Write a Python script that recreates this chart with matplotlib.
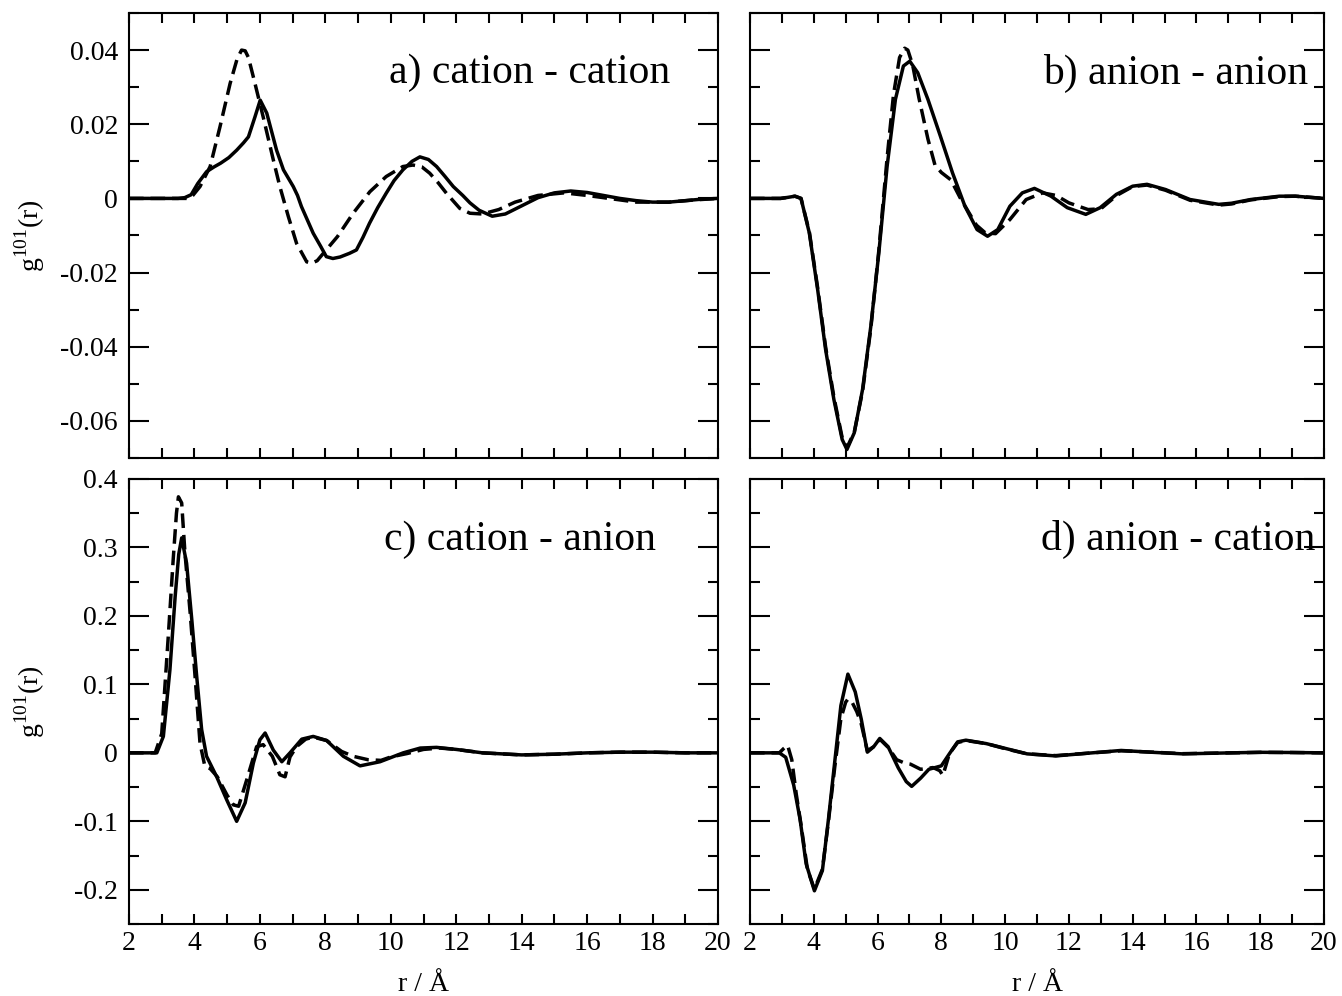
import matplotlib
matplotlib.use('Agg')
import matplotlib.pyplot as plt
from matplotlib.ticker import MultipleLocator, FuncFormatter

plt.rcParams['font.family'] = ['Liberation Serif', 'DejaVu Serif']
plt.rcParams['mathtext.fontset'] = 'custom'
plt.rcParams['mathtext.rm'] = 'Liberation Serif'
plt.rcParams['axes.unicode_minus'] = False

# ---------------- data ----------------
panel_labels = ["a) cation - cation", "b) anion - anion",
                "c) cation - anion", "d) anion - cation"]
x_ticks = [2, 4, 6, 8, 10, 12, 14, 16, 18, 20]

# a) cation - cation
r_a_solid = [2.0, 3.5, 3.7, 3.9, 4.1, 4.37, 4.6, 4.8, 5.05, 5.29, 5.5, 5.65, 5.85, 6.01,
             6.21, 6.51, 6.72, 6.9, 7.02, 7.15, 7.27, 7.45, 7.63, 7.85, 8.03, 8.23, 8.45,
             8.74, 8.95, 9.15, 9.35, 9.6, 9.86, 10.1, 10.37, 10.65, 10.89, 11.15, 11.4,
             11.65, 11.91, 12.2, 12.42, 12.7, 13.1, 13.5, 14.0, 14.5, 15.0, 15.5, 16.0,
             16.5, 17.0, 17.5, 18.0, 18.5, 19.0, 19.5, 20.0]
g_a_solid = [0, 0, 0.0002, 0.001, 0.004, 0.0072, 0.0085, 0.0095, 0.011, 0.013, 0.015,
             0.0166, 0.022, 0.0265, 0.023, 0.013, 0.0077, 0.005, 0.0032, 0.0008, -0.0022,
             -0.0058, -0.0094, -0.0128, -0.0157, -0.0162, -0.0158, -0.0148, -0.0139,
             -0.0105, -0.0067, -0.0025, 0.0014, 0.0048, 0.0077, 0.0100, 0.0112, 0.0105,
             0.0086, 0.0060, 0.0032, 0.0008, -0.0012, -0.0032, -0.0048, -0.0042, -0.0020,
             0.0002, 0.0015, 0.0020, 0.0016, 0.0008, 0.0, -0.0006, -0.0010, -0.0010,
             -0.0006, -0.0002, 0.0]
r_a_dash = [2.0, 3.8, 3.95, 4.17, 4.48, 4.78, 5.09, 5.3, 5.44, 5.55, 5.65, 5.85, 6.10,
            6.41, 6.61, 6.87, 7.12, 7.43, 7.58, 7.75, 7.94, 8.37, 8.85, 9.36, 9.86, 10.37,
            10.68, 10.95, 11.19, 11.45, 11.70, 12.11, 12.42, 12.8, 13.3, 13.8, 14.5, 15.3,
            16.0, 16.5, 17.5, 18.5, 19.3, 20.0]
g_a_dash = [0, 0, 0.0008, 0.0032, 0.0086, 0.0193, 0.031, 0.0375, 0.040, 0.0398, 0.038,
            0.031, 0.022, 0.0104, 0.0032, -0.0049, -0.0121, -0.0171, -0.0175, -0.0168,
            -0.0148, -0.0103, -0.0040, 0.0018, 0.0059, 0.0086, 0.0090, 0.0085, 0.0068,
            0.0042, 0.0014, -0.0027, -0.0040, -0.0042, -0.0030, -0.0010, 0.0008, 0.0015,
            0.0008, 0.0002, -0.0010, -0.0010, -0.0004, 0.0]

# b) anion - anion
r_b_solid = [2.0, 2.96, 3.2, 3.41, 3.6, 3.86, 4.12, 4.37, 4.63, 4.89, 5.04, 5.27, 5.53,
             5.79, 6.04, 6.30, 6.56, 6.81, 7.01, 7.26, 7.58, 7.97, 8.35, 8.74, 9.12, 9.45,
             9.77, 10.15, 10.54, 10.92, 11.44, 11.95, 12.53, 12.98, 13.49, 14.0, 14.45,
             15.03, 15.8, 16.7, 17.1, 17.7, 18.6, 19.1, 20.0]
g_b_solid = [0, 0, 0.0003, 0.0006, 0.0, -0.0093, -0.0245, -0.0407, -0.0542, -0.065,
             -0.0677, -0.0632, -0.0515, -0.0344, -0.0147, 0.0087, 0.0267, 0.0357, 0.037,
             0.0339, 0.0267, 0.0168, 0.0069, -0.0021, -0.0084, -0.0102, -0.0084, -0.0021,
             0.0015, 0.0027, 0.0006, -0.0025, -0.0043, -0.0025, 0.0011, 0.0033, 0.0038,
             0.0024, -0.0003, -0.0016, -0.0013, -0.0003, 0.0006, 0.0006, 0.0]
r_b_dash = [2.0, 2.96, 3.2, 3.41, 3.6, 3.86, 4.12, 4.37, 4.63, 4.89, 5.04, 5.27, 5.53,
            5.79, 6.04, 6.30, 6.50, 6.69, 6.85, 6.95, 7.1, 7.3, 7.58, 7.8, 8.0, 8.3, 8.6,
            8.87, 9.1, 9.38, 9.7, 10.15, 10.66, 11.18, 11.6, 12.0, 12.6, 13.0, 13.5, 14.0,
            14.45, 15.03, 15.8, 16.7, 17.1, 17.7, 18.6, 19.1, 20.0]
g_b_dash = [0, 0, 0.0003, 0.0006, 0.0, -0.0090, -0.0240, -0.0400, -0.0535, -0.0645,
            -0.0672, -0.063, -0.052, -0.035, -0.014, 0.011, 0.028, 0.038, 0.0405, 0.040,
            0.036, 0.027, 0.016, 0.009, 0.007, 0.005, 0.0, -0.0039, -0.0072, -0.0093,
            -0.0095, -0.0057, -0.0003, 0.0015, 0.0008, -0.0012, -0.0030, -0.0028, 0.0008,
            0.0032, 0.0036, 0.0022, -0.0005, -0.0018, -0.0015, -0.0004, 0.0005, 0.0006,
            0.0]

# c) cation - anion
r_c_solid = [2.0, 2.85, 3.05, 3.25, 3.41, 3.52, 3.61, 3.76, 3.92, 4.07, 4.22, 4.37, 4.68,
             4.99, 5.29, 5.55, 5.80, 6.00, 6.16, 6.41, 6.67, 6.92, 7.28, 7.63, 8.04, 8.55,
             9.06, 9.67, 10.38, 10.9, 11.4, 12.0, 12.8, 14.0, 15.0, 16.0, 17.0, 18.0, 19.0,
             20.0]
g_c_solid = [0, 0, 0.024, 0.121, 0.228, 0.29, 0.314, 0.277, 0.194, 0.111, 0.034, -0.005,
             -0.035, -0.069, -0.100, -0.073, -0.015, 0.019, 0.029, 0.004, -0.013, 0.0,
             0.020, 0.024, 0.018, -0.005, -0.019, -0.013, 0.0, 0.007, 0.008, 0.005, 0.0,
             -0.003, -0.002, 0.0, 0.001, 0.001, 0.0, 0.0]
r_c_dash = [2.0, 2.8, 3.0, 3.2, 3.35, 3.45, 3.51, 3.61, 3.71, 3.87, 4.02, 4.17, 4.32, 4.48,
            4.7, 5.0, 5.19, 5.35, 5.6, 5.9, 6.1, 6.38, 6.61, 6.77, 6.92, 7.12, 7.4, 7.63,
            8.04, 8.5, 8.85, 9.3, 9.7, 10.0, 10.5, 11.0, 11.5, 12.0, 12.8, 14.0, 15.0, 16.0,
            17.0, 18.0, 19.0, 20.0]
g_c_dash = [0, 0, 0.028, 0.17, 0.282, 0.35, 0.374, 0.365, 0.292, 0.204, 0.111, 0.014,
            -0.02, -0.023, -0.035, -0.062, -0.076, -0.078, -0.039, 0.009, 0.012, -0.005,
            -0.032, -0.035, -0.006, 0.009, 0.02, 0.023, 0.018, 0.002, -0.005, -0.010,
            -0.011, -0.006, -0.001, 0.005, 0.007, 0.005, 0.0, -0.003, -0.002, 0.0, 0.001,
            0.001, 0.0, 0.0]

# d) anion - cation
r_d_solid = [2.0, 2.92, 3.12, 3.37, 3.57, 3.76, 4.02, 4.27, 4.46, 4.66, 4.85, 5.07, 5.30,
             5.49, 5.68, 5.88, 6.07, 6.33, 6.65, 6.90, 7.07, 7.35, 7.61, 8.0, 8.25, 8.51,
             8.77, 9.41, 10.05, 10.69, 11.59, 12.6, 13.64, 14.54, 15.57, 17.1, 18.0, 19.0,
             20.0]
g_d_solid = [0, 0, -0.0065, -0.047, -0.097, -0.162, -0.2015, -0.172, -0.097, -0.012,
             0.069, 0.115, 0.089, 0.049, 0.001, 0.009, 0.021, 0.009, -0.022, -0.042,
             -0.049, -0.037, -0.024, -0.019, -0.0015, 0.016, 0.0185, 0.0135, 0.006,
             -0.0015, -0.0045, -0.0005, 0.0035, 0.001, -0.0015, 0.0, 0.0008, 0.0005, 0.0]
r_d_dash = [2.0, 2.92, 3.05, 3.18, 3.31, 3.45, 3.6, 3.8, 4.02, 4.27, 4.46, 4.66, 4.85, 5.0,
            5.07, 5.2, 5.35, 5.49, 5.68, 5.88, 6.07, 6.33, 6.6, 6.85, 7.03, 7.35, 7.74,
            7.95, 8.05, 8.25, 8.51, 8.77, 9.41, 10.05, 10.69, 11.59, 12.6, 13.64, 14.54,
            15.57, 17.1, 18.0, 19.0, 20.0]
g_d_dash = [0, 0, 0.006, 0.011, -0.01, -0.06, -0.105, -0.17, -0.199, -0.17, -0.1, -0.02,
            0.05, 0.074, 0.0785, 0.074, 0.06, 0.042, 0.003, 0.009, 0.02, 0.008, -0.01,
            -0.015, -0.0165, -0.024, -0.0215, -0.026, -0.033, -0.0015, 0.015, 0.018,
            0.0135, 0.0055, -0.0015, -0.004, -0.0005, 0.003, 0.0012, -0.0012, 0.0,
            0.0007, 0.0005, 0.0]

# ---------------- figure ----------------
fig = plt.figure(figsize=(13.42, 9.96), dpi=100)

W, H = 1342.0, 996.0
def rect(x0, x1, y0, y1):
    return [x0 / W, 1 - y1 / H, (x1 - x0) / W, (y1 - y0) / H]

ax_a = fig.add_axes(rect(129, 718, 13, 458))
ax_b = fig.add_axes(rect(750, 1324, 13, 458))
ax_c = fig.add_axes(rect(129, 718, 479, 924))
ax_d = fig.add_axes(rect(750, 1324, 479, 924))

def fmt(v, pos):
    s = f'{round(v, 4):g}'
    return '0' if s in ('-0', '0') else s

LW = 2.5
series = [
    (ax_a, r_a_solid, g_a_solid, r_a_dash, g_a_dash),
    (ax_b, r_b_solid, g_b_solid, r_b_dash, g_b_dash),
    (ax_c, r_c_solid, g_c_solid, r_c_dash, g_c_dash),
    (ax_d, r_d_solid, g_d_solid, r_d_dash, g_d_dash),
]
for ax, rs, gs, rd, gd in series:
    ax.plot(rs, gs, color='black', lw=LW, solid_joinstyle='round')
    ax.plot(rd, gd, color='black', lw=LW, dashes=(4.2, 2.0), dash_joinstyle='round')
    ax.set_xlim(2, 20)
    ax.xaxis.set_major_locator(MultipleLocator(2))
    ax.xaxis.set_minor_locator(MultipleLocator(1))
    ax.tick_params(which='both', direction='in', top=True, right=True, width=1.5,
                   labelsize=20, colors='black')
    ax.tick_params(axis='x', which='both', length=7.2, pad=5)
    ax.tick_params(axis='y', which='major', length=14.4, pad=8)
    ax.tick_params(axis='y', which='minor', length=7.2)
    ax.yaxis.set_major_formatter(FuncFormatter(fmt))
    ax.xaxis.set_major_formatter(FuncFormatter(fmt))
    for sp in ax.spines.values():
        sp.set_linewidth(1.5)

for ax in (ax_a, ax_b):
    ax.set_ylim(-0.07, 0.05)
    ax.yaxis.set_major_locator(MultipleLocator(0.02))
    ax.yaxis.set_minor_locator(MultipleLocator(0.01))
    ax.tick_params(axis='x', labelbottom=False)
for ax in (ax_c, ax_d):
    ax.set_ylim(-0.25, 0.4)
    ax.yaxis.set_major_locator(MultipleLocator(0.1))
    ax.yaxis.set_minor_locator(MultipleLocator(0.05))
    ax.set_xticks(x_ticks)
for ax in (ax_b, ax_d):
    ax.tick_params(axis='y', labelleft=False)

# panel titles (x in data units, y in axes fraction)
title_pos = [(ax_a, 9.95, 0.865), (ax_b, 11.19, 0.865),
             (ax_c, 9.8, 0.863), (ax_d, 11.12, 0.863)]
for (ax, xt, yt), lab in zip(title_pos, panel_labels):
    ax.text(xt, yt, lab, transform=ax.get_xaxis_transform(), fontsize=30,
            ha='left', va='center')

# axis labels
ylab = r'g$^{\mathregular{101}}$(r)'
fig.text(30 / W, 1 - 235.5 / H, ylab, rotation=90, fontsize=20, ha='center', va='center')
fig.text(30 / W, 1 - 701.5 / H, ylab, rotation=90, fontsize=20, ha='center', va='center')
fig.text(423.5 / W, 1 - 991 / H, 'r / Å', fontsize=20, ha='center', va='baseline')
fig.text(1037 / W, 1 - 991 / H, 'r / Å', fontsize=20, ha='center', va='baseline')

fig.savefig('out.png', dpi=100)
